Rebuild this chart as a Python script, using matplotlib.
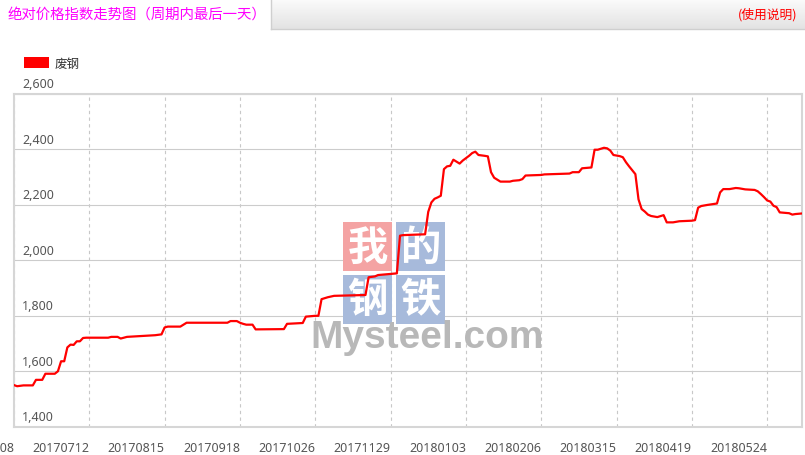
import matplotlib
matplotlib.use('Agg')
import matplotlib.pyplot as plt
import numpy as np
from matplotlib.patches import Rectangle, Patch
from matplotlib.colors import LinearSegmentedColormap

plt.rcParams['font.family'] = ['Noto Sans', 'Noto Sans CJK SC', 'DejaVu Sans']

# scrap steel price index (trading-day index -> value)
day_idx = [0, 1, 3, 6, 7, 9, 10, 13, 14, 15, 16, 17, 18, 19, 20, 21, 22, 23,
           30, 31, 33, 34, 36, 45, 47, 48, 49, 53, 55, 68, 69, 71, 72, 73, 74,
           76, 77, 86, 87, 92, 93, 96, 97, 98, 100, 102, 112, 113, 115, 116,
           120, 122, 123, 124, 131, 132, 133, 134, 135, 136, 137, 138, 139,
           140, 142, 143, 145, 146, 147, 148, 150, 151, 152, 153, 154, 155,
           158, 159, 161, 162, 163, 168, 169, 177, 178, 180, 181, 184, 185,
           186, 188, 189, 190, 191, 193, 194, 195, 196, 198, 199, 200, 201,
           202, 203, 205, 207, 208, 210, 212, 216, 217, 218, 219, 221, 224,
           225, 226, 228, 230, 231, 233, 236, 237, 238, 239, 240, 241, 242,
           243, 244, 246, 247, 248, 249, 251]
price = [1550, 1546, 1549, 1549, 1569, 1569, 1591, 1591, 1600, 1636, 1636,
         1686, 1696, 1695, 1708, 1708, 1720, 1721, 1721, 1724, 1724, 1718,
         1724, 1730, 1733, 1758, 1761, 1761, 1775, 1775, 1781, 1781, 1775,
         1771, 1768, 1768, 1751, 1752, 1771, 1774, 1797, 1800, 1800, 1860,
         1867, 1872, 1875, 1939, 1942, 1947, 1951, 1953, 2089, 2091, 2094,
         2175, 2209, 2222, 2227, 2233, 2329, 2339, 2341, 2363, 2349, 2360,
         2377, 2387, 2392, 2380, 2377, 2375, 2318, 2298, 2291, 2284, 2284,
         2287, 2289, 2293, 2306, 2308, 2310, 2313, 2318, 2318, 2332, 2335,
         2399, 2399, 2406, 2404, 2396, 2380, 2376, 2372, 2354, 2339, 2311,
         2220, 2185, 2176, 2165, 2160, 2156, 2163, 2137, 2137, 2141, 2143,
         2145, 2190, 2196, 2200, 2205, 2245, 2257, 2257, 2261, 2260, 2256,
         2254, 2249, 2239, 2228, 2216, 2212, 2197, 2192, 2173, 2171, 2170,
         2165, 2167, 2169]

tick_idx = [0, 24, 48, 72, 96, 120, 144, 168, 192, 216, 240]
tick_labels = ['20170608', '20170712', '20170815', '20170918', '20171026',
               '20171129', '20180103', '20180206', '20180315', '20180419',
               '20180524']
y_ticks = [1400, 1600, 1800, 2000, 2200, 2400, 2600]

W, H = 805, 456
fig = plt.figure(figsize=(W / 100, H / 100), dpi=100)


def fig_xy(x, y):
    return x / W, 1 - y / H


# header bar
hdr = fig.add_axes([271 / W, 1 - 29.5 / H, (W - 271) / W, 29.5 / H])
grad = np.linspace(0, 1, 60).reshape(-1, 1)
hdr.imshow(grad, aspect='auto', extent=[0, 1, 0, 1],
           cmap=LinearSegmentedColormap.from_list('g', ['#fbfbfb', '#e3e3e3']))
hdr.set_xticks([])
hdr.set_yticks([])
for s in ['top', 'right']:
    hdr.spines[s].set_visible(False)
for s in ['left', 'bottom']:
    hdr.spines[s].set_color('#cfcfcf')
    hdr.spines[s].set_linewidth(1)

fig.text(*fig_xy(8, 15), '绝对价格指数走势图（周期内最后一天）', color='#ff00ff',
         fontsize=10.4, va='center', ha='left', family='Noto Sans CJK SC')
fig.text(*fig_xy(797, 15), '(使用说明)', color='#ff0000', fontsize=9.2,
         va='center', ha='right', family=['Noto Sans CJK SC', 'DejaVu Sans'])

# main plot
ax = fig.add_axes([14 / W, 1 - 427.7 / H, 787.7 / W, 332.7 / H])
ax.set_xlim(0, 251)
ax.set_ylim(1400, 2600)
ax.set_axisbelow(True)

ax.set_yticks(y_ticks)
ax.tick_params(axis='y', length=0, labelleft=False)
ax.yaxis.grid(True, color='#cccccc', lw=0.8)

ax.set_xticks(tick_idx, tick_labels)
for lbl in ax.get_xticklabels():
    lbl.set_ha('right')
ax.tick_params(axis='x', length=0, pad=10.5, labelsize=9, labelcolor='#555555')
ax.xaxis.grid(True, color='#c8c8c8', lw=0.8, ls=(0, (3, 3)))

for s in ax.spines.values():
    s.set_color('#d6d6d6')
    s.set_linewidth(1.5)

for v in y_ticks:
    ax.annotate(f'{v:,}', xy=(0, v), xycoords=('axes fraction', 'data'),
                xytext=(6, 4.8), textcoords='offset points', ha='left',
                va='baseline', fontsize=9, color='#555555', annotation_clip=False)

# watermark
boxes = [(343, 223, '#f4a3a3', '我'), (396, 223, '#a7badb', '的'),
         (343, 275.5, '#a7badb', '钢'), (396, 275.5, '#a7badb', '铁')]
for x0, y0, col, ch in boxes:
    ax.add_patch(Rectangle(fig_xy(x0, y0 + 49), 49 / W, 49 / H,
                           transform=fig.transFigure, facecolor=col,
                           edgecolor='none', zorder=1))
    ax.text(*fig_xy(x0 + 24.5, y0 + 25), ch, transform=fig.transFigure,
            ha='center', va='center', fontsize=29, color='white',
            fontweight='bold', family='Noto Sans CJK SC', zorder=1.1)
ax.text(*fig_xy(310, 348), 'Mysteel.com', transform=fig.transFigure,
        ha='left', va='baseline', fontsize=28, fontweight='bold',
        color='#b8b8b8', family='Liberation Sans', zorder=1.2)

ax.plot(day_idx, price, color='#ff0000', lw=1.6, zorder=3,
        solid_joinstyle='round')

ax.legend(handles=[Patch(facecolor='#ff0000', edgecolor='none', label='废钢')],
          loc='upper left', bbox_to_anchor=fig_xy(24, 58),
          bbox_transform=fig.transFigure, frameon=False, borderpad=0,
          borderaxespad=0, handlelength=2.0, handleheight=1.0,
          handletextpad=0.45, prop={'family': 'Noto Sans CJK SC', 'size': 9},
          labelcolor='#333333')

fig.savefig('out.png', dpi=100)
